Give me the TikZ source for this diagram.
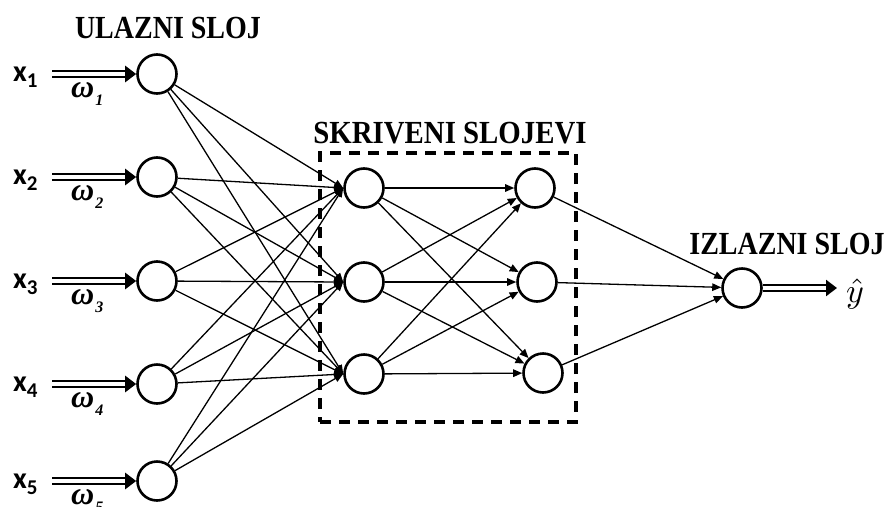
\documentclass[tikz,border=0pt]{standalone}
\usepackage{fontspec}
\setmainfont{Liberation Serif}
\newfontfamily\xfont{Carlito}
\usetikzlibrary{arrows.meta}
\begin{document}
\begin{tikzpicture}[x=1pt,y=-1pt,
  neuron/.style={circle,draw,line width=2.6pt,minimum size=39pt,inner sep=0pt},
  conn/.style={line width=1.3pt,-{Triangle[length=9pt,width=7.5pt]}},
  dbl/.style={double,double distance=3.4pt,line width=2.5pt,-{Triangle[length=11pt,width=16pt]}},
  head/.style={font=\bfseries\fontsize{28}{28}\selectfont,inner sep=0pt,anchor=base},
  xlab/.style={font=\xfont\bfseries\fontsize{30}{30}\selectfont,inner sep=0pt,anchor=base west},
  wlab/.style={font=\bfseries\itshape\fontsize{32}{32}\selectfont,inner sep=0pt,anchor=base west}]
\useasboundingbox (0,0) rectangle (890,506);
% dashed hidden box
\node[draw,line width=3.6pt,dash pattern=on 11pt off 8pt,minimum width=256pt,minimum height=269pt,inner sep=0pt] (box) at (448,287.5) {};
% input neurons
\foreach \i/\y in {1/74,2/177,3/281,4/384,5/481}{
  \node[neuron] (i\i) at (157,\y) {};
  \coordinate (s\i) at (52,\y);
  \draw[dbl] (s\i) -- (i\i.west);
  \node[xlab] (x\i) at (13,\y+7) {x\raisebox{-6pt}{\fontsize{21}{21}\selectfont \i}};
  \node[wlab] (w\i) at (71,\y+23) {ω\raisebox{-8pt}{\fontsize{16}{16}\selectfont\hspace{1pt}\i}};
}
% hidden layers
\node[neuron] (a1) at (364,188) {};
\node[neuron] (a2) at (364,282) {};
\node[neuron] (a3) at (364,374) {};
\node[neuron] (b1) at (535,188) {};
\node[neuron] (b2) at (537,282) {};
\node[neuron] (b3) at (543,373) {};
% output
\node[neuron] (o) at (742,288) {};
\coordinate (ye) at (837,288);
\draw[dbl] (o.east) -- (ye);
\node[inner sep=0pt,anchor=west] (yh) at (846,294) {\scalebox{3.4}{$\hat{y}$}};
% connections
\foreach \i in {1,...,5}{\foreach \j in {1,2,3}{\draw[conn] (i\i) -- (a\j.west);}}
\foreach \i in {1,2,3}{\foreach \j in {1,2,3}{\draw[conn] (a\i) -- (b\j);}}
\foreach \j in {1,2,3}{\draw[conn] (b\j) -- (o);}
% headings
\node[head] (t1) at (168,38) {\scalebox{1}[1.15]{ULAZNI SLOJ}};
\node[head] (t2) at (450,143) {\scalebox{1.03}[1.15]{SKRIVENI SLOJEVI}};
\node[head] (t3) at (787,254) {\scalebox{1}[1.15]{IZLAZNI SLOJ}};
\end{tikzpicture}
\end{document}
